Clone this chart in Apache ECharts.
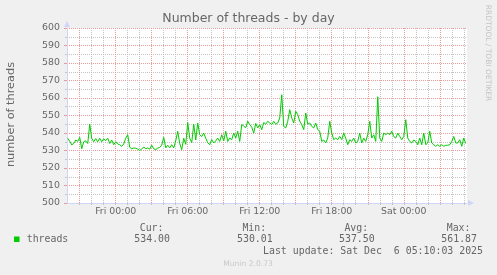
<!DOCTYPE html>
<html><head><meta charset="utf-8">
<script src="https://cdn.jsdelivr.net/npm/echarts@6/dist/echarts.min.js"></script>
<style>html,body{margin:0;padding:0;background:#f0f0f0}#c{width:497px;height:275px}</style>
</head><body><div id="c"></div>
<script>
const chartTitle = 'Number of threads - by day';
const yAxisName = 'number of threads';
const seriesName = 'threads';
// samples every 10 minutes, starting Thu 20:00 (hours relative to Fri 00:00)
const sampleStartHour = -4;
const sampleStepHours = 10 / 60;
const threads = [
537,535.3,533.2,534,536,535.2,537.5,531,535,535.5,534,545,537,535,536.8,535,537,535,536.7,535.6,
537,534,536,533.3,535,533.7,533.3,532.4,533.7,537,539,531.8,531,531.4,531.3,530.8,530.01,530.8,532,531,
531.5,530.8,533,531,530.5,531.3,531.8,533,537.5,531.5,533,531.5,533.3,531.5,535.5,541,534,530.5,537,533.5,
546,537,534.5,545,536,545.7,539,538,540,537,534.5,533.3,536.2,534.3,535.5,537.1,535.2,539,535.5,541,
535.2,537.1,536.2,540,537.1,541,535.2,544.8,544,543,546.7,544.8,543.3,540,545.5,542.9,544.8,541.9,546,545,
546.7,545.7,544.8,546.7,545,545.7,548.6,561.87,543.8,542.9,546.7,553.3,548.6,545.7,552.4,550.5,546.7,544.8,541.9,551.4,
545,545.7,543.8,542.9,545.7,541.9,541,535.2,536,534.3,537.1,546.7,540,536.2,537.1,536.2,538,536.2,540,537,
533.3,536.2,535.2,537.1,534.3,535.2,540,534.3,537.1,535.2,539,546.7,537.1,539,535.2,560.7,537.1,535.2,540,539,
540,539,541,538,537.1,540,538,536.2,538,547.6,537.1,535.2,534.3,536,535.2,533.3,537.1,533.3,540,533.3,
534.3,541,534.3,533.3,532.4,533.3,532.4,533.3,532.4,533,533,533.3,535.2,538,534.3,534.3,536.2,532.4,537.1,534
];
const xMin = -4.06, xMax = 29.27;
const xLabelHours = [0, 6, 12, 18, 24];
const xLabelTexts = ['Fri 00:00', 'Fri 06:00', 'Fri 12:00', 'Fri 18:00', 'Sat 00:00'];
const yMin = 500, yMax = 600, yStep = 10;
const statLabels = ['Cur:', 'Min:', 'Avg:', 'Max:'];
const statValues = ['534.00', '530.01', '537.50', '561.87'];
const lastUpdate = 'Last update: Sat Dec  6 05:10:03 2025';
const sideText = 'RRDTOOL / TOBI OETIKER';
const footerText = 'Munin 2.0.73';

const MGRID = '#eb9a9a', GRID = '#c4c4c4', AXIS = '#CFD6F8', FONT = '#666666', LINE = '#00cc00';
const SANS = '"DejaVu Sans"', MONO = '"DejaVu Sans Mono"';

// hourly vertical grid, starting at a 3-hour major line (-3 h)
const gridHours = [];
for (let h = -3; h <= Math.floor(xMax); h++) gridHours.push(h);
const data = threads.map((v, i) => [sampleStartHour + i * sampleStepHours, v]);

const chart = echarts.init(document.getElementById('c'), null, {renderer: 'canvas'});
const txt = (text, x, y, font, fill, align, valign, rot) => ({
  type: 'text', x, y, rotation: rot || 0, silent: true,
  style: {text, font, fill, align, verticalAlign: valign, textAlign: align, textVerticalAlign: valign}
});
const colRight = [170, 272.7, 374.7, 477];
const graphics = [
  txt(chartTitle, 248.5, 18.5, '12.5px ' + SANS, FONT, 'center', 'middle'),
  txt(yAxisName, 11, 114.5, '11.3px ' + SANS, FONT, 'center', 'middle', Math.PI / 2),
  txt(sideText, 488, 53, '7.5px ' + SANS, '#c4c4c4', 'center', 'middle', -Math.PI / 2),
  {type: 'rect', shape: {x: 14, y: 236.5, width: 5.5, height: 5.5}, style: {fill: LINE}, silent: true},
  txt(seriesName, 26.7, 239.5, '9.9px ' + MONO, FONT, 'left', 'middle'),
  txt(lastUpdate, 483, 251, '9.9px ' + MONO, FONT, 'right', 'middle'),
  txt(footerText, 248, 264.5, '7.6px ' + SANS, '#c8c8c8', 'center', 'middle')
];
statLabels.forEach((s, i) => {
  graphics.push(txt(s, colRight[i] - 6.5, 228.5, '9.9px ' + MONO, FONT, 'right', 'middle'));
  graphics.push(txt(statValues[i], colRight[i], 239.5, '9.9px ' + MONO, FONT, 'right', 'middle'));
});

chart.setOption({
  animation: false,
  backgroundColor: '#f0f0f0',
  grid: {left: 67, top: 28, width: 400, height: 175, show: true, backgroundColor: '#ffffff', borderWidth: 0},
  xAxis: {
    type: 'value', min: xMin, max: xMax,
    axisLine: {show: true, onZero: false, lineStyle: {color: AXIS, width: 1},
      symbol: ['none', 'triangle'], symbolSize: [6, 6], symbolOffset: [0, 4]},
    axisTick: {show: true, customValues: gridHours, length: 2, lineStyle: {color: GRID}},
    splitLine: {show: true, lineStyle: {color: [MGRID, GRID, GRID], width: 1, type: [1, 1]}},
    axisLabel: {show: true, customValues: xLabelHours, color: FONT, fontFamily: SANS, fontSize: 9.4, margin: 4,
      formatter: v => { const k = xLabelHours.indexOf(Math.round(v)); return k >= 0 ? xLabelTexts[k] : ''; }}
  },
  yAxis: {
    type: 'value', min: yMin, max: yMax, interval: yStep,
    axisLine: {show: true, onZero: false, lineStyle: {color: AXIS, width: 1},
      symbol: ['none', 'triangle'], symbolSize: [6, 6], symbolOffset: [0, 4]},
    axisTick: {show: true, length: 3, lineStyle: {color: MGRID}},
    minorTick: {show: true, splitNumber: 2, length: 2, lineStyle: {color: GRID}},
    splitLine: {show: true, lineStyle: {color: MGRID, width: 1, type: [1, 1]}},
    minorSplitLine: {show: true, lineStyle: {color: GRID, width: 1, type: [1, 1]}},
    axisLabel: {color: FONT, fontFamily: SANS, fontSize: 9.4, margin: 7}
  },
  series: [{
    name: seriesName, type: 'line', data,
    showSymbol: false, symbol: 'none', z: 5,
    lineStyle: {color: LINE, width: 1}, itemStyle: {color: LINE}
  }],
  graphic: {elements: graphics}
});
</script></body></html>
